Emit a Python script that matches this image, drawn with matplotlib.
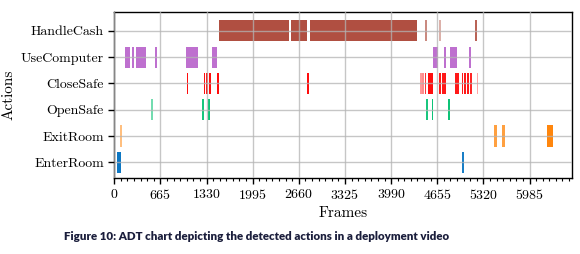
import matplotlib
matplotlib.use("Agg")
import matplotlib.pyplot as plt
from matplotlib.ticker import MultipleLocator

# --------------------------------------------------
# Data: detected action segments (start frame, length, opacity)
# --------------------------------------------------
actions = ["EnterRoom", "ExitRoom", "OpenSafe", "CloseSafe", "UseComputer", "HandleCash"]

enter_room = [(46, 52, 0.95), (5010, 28, 0.9)]
exit_room = [(79, 39, 0.5), (5479, 34, 0.75), (5590, 43, 0.75), (6243, 78, 0.95)]
open_safe = [(532, 24, 0.55), (1268, 24, 0.9), (1356, 24, 0.95),
             (4500, 24, 0.9), (4577, 24, 0.95), (4813, 24, 0.95)]
close_safe = [(1046, 22, 0.95), (1289, 24, 0.95), (1328, 24, 0.95), (1366, 24, 0.95),
              (1481, 25, 0.95), (2784, 24, 0.95),
              (4410, 22, 0.4), (4436, 22, 0.45), (4473, 22, 0.8), (4527, 63, 0.95),
              (4684, 24, 0.9), (4720, 26, 0.9), (4756, 23, 0.9),
              (4910, 23, 0.9), (4945, 29, 0.9), (5007, 25, 0.9), (5044, 24, 0.9),
              (5088, 23, 0.9), (5128, 25, 0.85), (5225, 23, 0.35)]
use_computer = [(151, 73, 0.75), (257, 24, 0.75), (310, 154, 0.75), (584, 29, 0.75),
                (1041, 159, 0.75), (1406, 77, 0.75),
                (4599, 63, 0.75), (4749, 29, 0.75), (4840, 96, 0.75), (5110, 33, 0.75)]
handle_cash = [(1512, 1000, 0.9), (2550, 228, 0.9), (2815, 1553, 0.9),
               (4478, 24, 0.6), (4683, 20, 0.4), (5203, 24, 0.8)]

segments = [enter_room, exit_room, open_safe, close_safe, use_computer, handle_cash]
colors = ["#0070c0", "#ff8000", "#00c070", "#ff0000", "#a840c0", "#a83c2c"]

x_max = 6604
major_step = 665
minor_step = 95

# --------------------------------------------------
# Style
# --------------------------------------------------
plt.rcParams["font.family"] = "serif"
plt.rcParams["font.serif"] = ["cmr10"]
plt.rcParams["axes.formatter.use_mathtext"] = True

fig = plt.figure(figsize=(5.8, 2.54), dpi=100)
ax = fig.add_axes([0.197, 0.299, 0.79, 0.654])

# --------------------------------------------------
# Draw bars
# --------------------------------------------------
for row, (segs, col) in enumerate(zip(segments, colors)):
    for start, length, alpha in segs:
        ax.broken_barh([(start, length)], (row - 0.4, 0.8),
                       facecolors=col, alpha=alpha, linewidth=0)

ax.set_xlim(0, x_max)
ax.set_ylim(-0.6, 5.72)
ax.set_yticks(range(len(actions)))
ax.set_yticklabels(actions)
ax.xaxis.set_major_locator(MultipleLocator(major_step))
ax.xaxis.set_minor_locator(MultipleLocator(minor_step))

# grid drawn over the bars, as in the original
ax.set_axisbelow(False)
ax.grid(True, which="major", color="#b4b4b4", linewidth=1.0, alpha=0.75)
ax.tick_params(axis="both", which="major", direction="out", length=4, width=1, labelsize=10)
ax.tick_params(axis="x", which="minor", direction="out", length=2, width=0.8)
for sp in ax.spines.values():
    sp.set_linewidth(1.0)

ax.set_xlabel("Frames", fontsize=11, labelpad=3)
ax.set_ylabel("Actions", fontsize=11, labelpad=4)

# --------------------------------------------------
# Caption
# --------------------------------------------------
fig.text(0.442, 0.068, "Figure 10: ADT chart depicting the detected actions in a deployment video",
         ha="center", va="center", fontsize=8.3, fontweight="heavy",
         family="Lato", color="#1b1e3c")

fig.savefig("out.png", dpi=100)
